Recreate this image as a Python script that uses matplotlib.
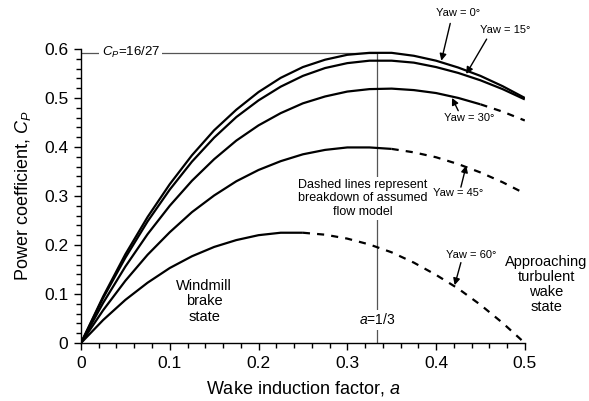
import matplotlib
matplotlib.use("Agg")
import matplotlib.pyplot as plt
import numpy as np

plt.rcParams['font.family'] = ['Liberation Sans', 'DejaVu Sans']
plt.rcParams['mathtext.fontset'] = 'custom'
plt.rcParams['mathtext.rm'] = 'Liberation Sans'
plt.rcParams['mathtext.it'] = 'Liberation Sans:italic'

# ---- data ----
a_vals = [0.0, 0.025, 0.05, 0.075, 0.1, 0.125, 0.15, 0.175, 0.2, 0.225, 0.25,
          0.275, 0.3, 0.325, 0.35, 0.375, 0.4, 0.425, 0.45, 0.475, 0.5]
cp_yaw0 = [0.0, 0.095, 0.181, 0.257, 0.324, 0.383, 0.434, 0.476, 0.512, 0.541, 0.563,
           0.578, 0.588, 0.592, 0.592, 0.586, 0.576, 0.562, 0.545, 0.524, 0.500]
cp_yaw15 = [0.0, 0.092, 0.174, 0.248, 0.313, 0.370, 0.419, 0.461, 0.495, 0.523, 0.545,
            0.561, 0.571, 0.576, 0.576, 0.572, 0.563, 0.551, 0.536, 0.518, 0.497]
cp_yaw30 = [0.0, 0.082, 0.156, 0.222, 0.280, 0.331, 0.375, 0.413, 0.444, 0.469, 0.489,
            0.503, 0.513, 0.518, 0.519, 0.516, 0.510, 0.500, 0.487, 0.472, 0.454]
cp_yaw45 = [0.0, 0.067, 0.127, 0.180, 0.226, 0.267, 0.301, 0.330, 0.353, 0.371, 0.385,
            0.394, 0.399, 0.399, 0.396, 0.389, 0.379, 0.365, 0.348, 0.328, 0.305]
cp_yaw60 = [0.0, 0.047, 0.088, 0.123, 0.153, 0.177, 0.196, 0.210, 0.220, 0.225, 0.225,
            0.221, 0.213, 0.201, 0.185, 0.164, 0.139, 0.111, 0.078, 0.041, 0.0]
# a value where each curve switches from solid to dashed
solid_until = {'0': 0.5, '15': 0.5, '30': 0.45, '45': 0.35, '60': 0.25}

x_ticks = [0, 0.1, 0.2, 0.3, 0.4, 0.5]
x_ticklabels = ['0', '0.1', '0.2', '0.3', '0.4', '0.5']
y_ticks = [0, 0.1, 0.2, 0.3, 0.4, 0.5, 0.6]
y_ticklabels = ['0', '0.1', '0.2', '0.3', '0.4', '0.5', '0.6']

a_opt = 1.0 / 3.0
cp_betz = 16.0 / 27.0

fig = plt.figure(figsize=(5.89, 4.01), dpi=100)
ax = fig.add_axes([0.1375, 0.1446, 0.7535, 0.7334])

a = np.array(a_vals)
series = [('0', cp_yaw0), ('15', cp_yaw15), ('30', cp_yaw30), ('45', cp_yaw45), ('60', cp_yaw60)]
for name, cp in series:
    cp = np.array(cp)
    br = solid_until[name]
    m1 = a <= br + 1e-9
    m2 = a >= br - 1e-9
    ax.plot(a[m1], cp[m1], color='black', lw=1.6, solid_capstyle='butt', zorder=3)
    if m2.sum() > 1:
        ax.plot(a[m2], cp[m2], color='black', lw=1.6, linestyle=(0, (3.2, 3.2)), zorder=3)

# reference lines
ax.plot([0, a_opt], [cp_betz, cp_betz], color='#555555', lw=0.9, zorder=2)
ax.plot([a_opt, a_opt], [0, cp_betz], color='#555555', lw=0.9, zorder=2)

ax.set_xlim(0, 0.5)
ax.set_ylim(0, 0.6)
ax.set_xticks(x_ticks)
ax.set_xticklabels(x_ticklabels)
ax.set_yticks(y_ticks)
ax.set_yticklabels(y_ticklabels)
ax.set_xticks(np.arange(0, 0.5001, 0.02), minor=True)
ax.set_yticks(np.arange(0, 0.6001, 0.02), minor=True)
ax.tick_params(which='major', direction='out', length=5, width=1, labelsize=12.5, pad=4)
ax.tick_params(which='minor', direction='out', length=3.5, width=1)
for s in ['top', 'right']:
    ax.spines[s].set_visible(False)
for s in ['left', 'bottom']:
    ax.spines[s].set_linewidth(1.0)

ax.set_xlabel('Wake induction factor, $a$', fontsize=13, labelpad=6)
ax.set_ylabel('Power coefficient, $C_P$', fontsize=13, labelpad=8)

wb = dict(facecolor='white', edgecolor='none', pad=1.5)
ax.text(0.056, cp_betz, '$C_P$=16/27', fontsize=9.5, ha='center', va='center',
        bbox=wb, zorder=4)
ax.text(a_opt, 0.047, '$a$=1/3', fontsize=10, ha='center', va='center', bbox=wb, zorder=4)
ax.text(0.317, 0.295, 'Dashed lines represent\nbreakdown of assumed\nflow model',
        fontsize=9, ha='center', va='center', linespacing=1.15, bbox=wb, zorder=4)
ax.text(0.139, 0.085, 'Windmill\nbrake\nstate', fontsize=10.5, ha='center', va='center',
        linespacing=1.15)
ax.text(0.524, 0.12, 'Approaching\nturbulent\nwake\nstate', fontsize=10.5, ha='center',
        va='center', linespacing=1.1, clip_on=False)

arrow = dict(arrowstyle='-|>', color='black', lw=1.0, mutation_scale=10, shrinkA=0, shrinkB=0)
annots = [
    ('Yaw = 0°', (0.406, 0.576), (0.4245, 0.673), (0.416, 0.652)),
    ('Yaw = 15°', (0.434, 0.549), (0.478, 0.639), (0.457, 0.620)),
    ('Yaw = 30°', (0.418, 0.500), (0.437, 0.460), (0.425, 0.474)),
    ('Yaw = 45°', (0.434, 0.362), (0.425, 0.306), (0.428, 0.318)),
    ('Yaw = 60°', (0.421, 0.118), (0.440, 0.180), (0.428, 0.164)),
]
for label, xy, txy, tail in annots:
    ax.text(txy[0], txy[1], label, fontsize=8, ha='center', va='center', zorder=5,
            clip_on=False)
    ax.annotate('', xy=xy, xytext=tail, arrowprops=arrow, zorder=5, annotation_clip=False)

fig.savefig('out.png', dpi=100)
